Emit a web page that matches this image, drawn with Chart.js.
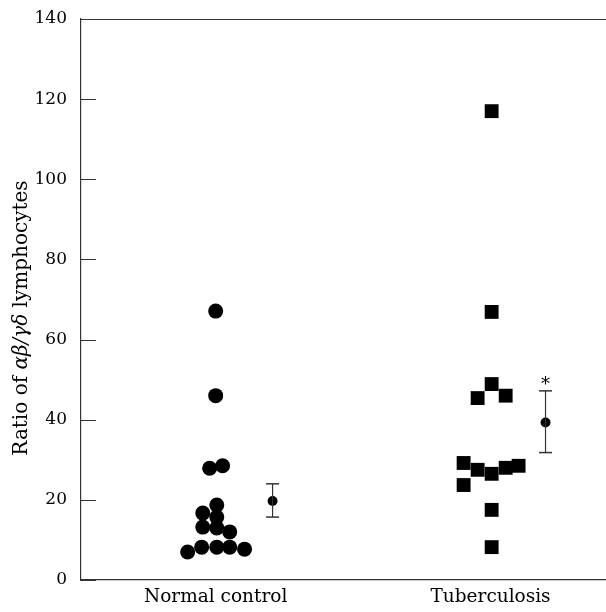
<!DOCTYPE html>
<html>
<head>
<meta charset="utf-8">
<script src="https://cdn.jsdelivr.net/npm/chart.js@4/dist/chart.umd.min.js"></script>
<style>
    html, body { margin: 0; padding: 0; background: #fff; overflow: hidden; }
    #wrap { width: 606px; height: 612px; position: relative; }
    canvas { display: block; }
</style>
</head>
<body>
<div id="wrap"><canvas id="ratioChart"></canvas></div>
<script>
// Data

var categories = ['Normal control', 'Tuberculosis'];
var yTicks = [0, 20, 40, 60, 80, 100, 120, 140];

var normalX = [1.0, 1.0, 0.978, 1.025, 1.004, 0.953, 1.004, 0.953, 1.004, 1.051, 0.898, 0.949, 1.004, 1.051, 1.105];
var normalY = [67.1, 46.0, 27.9, 28.5, 18.7, 16.7, 15.7, 13.2, 13.0, 12.0, 7.0, 8.2, 8.2, 8.2, 7.7];

var tbX = [2.004, 2.004, 2.004, 1.953, 2.055, 1.902, 1.953, 2.004, 2.055, 2.102, 1.902, 2.004, 2.004];
var tbY = [117.0, 66.9, 48.9, 45.4, 46.0, 29.2, 27.5, 26.5, 28.0, 28.5, 23.7, 17.5, 8.2];

var meanX = [1.207, 2.2];
var meanY = [19.7, 39.3];
var errLow = [15.7, 31.8];
var errHigh = [24.0, 47.2];
var marks = ['', '*'];

function pts(xs, ys)
{
    return xs.map(function (x, i) { return { x: x, y: ys[i] }; });
}

var serif = '"DejaVu Serif", "Liberation Serif", serif';
var ink = '#000';

// Extra drawing: inward ticks, top line, y title, asterisk

var extras = {
    id: 'extras',
    afterDraw: function (chart)
    {
        var c = chart.ctx;
        var a = chart.chartArea;
        var ys = chart.scales.y;
        var xs = chart.scales.x;
        c.save();
        c.strokeStyle = '#333';
        c.lineWidth = 1.2;
        c.beginPath();
        c.moveTo(a.left, a.top + 0.5);
        c.lineTo(a.right, a.top + 0.5);
        ys.ticks.forEach(function (t)
        {
            var py = Math.round(ys.getPixelForValue(t.value)) + 0.5;
            c.moveTo(a.left, py);
            c.lineTo(a.left + 15, py);
        });
        c.stroke();

        // asterisk
        c.fillStyle = ink;
        c.font = '18px ' + serif;
        c.textAlign = 'center';
        c.textBaseline = 'alphabetic';
        for (var i = 0; i < marks.length; i++)
        {
            if (marks[i])
            {
                c.fillText(marks[i], xs.getPixelForValue(meanX[i]), ys.getPixelForValue(errHigh[i]) - 1);
            }
        }

        // y title with italic greek part
        var parts = [['Ratio of ', ''], ['\u03b1\u03b2/\u03b3\u03b4', 'italic '], [' lymphocytes', '']];
        c.translate(27, 318);
        c.rotate(-Math.PI / 2);
        c.textAlign = 'left';
        var total = 0;
        parts.forEach(function (p)
        {
            c.font = p[1] + '20px ' + serif;
            total += c.measureText(p[0]).width;
        });
        var pos = -total / 2;
        parts.forEach(function (p)
        {
            c.font = p[1] + '20px ' + serif;
            c.fillText(p[0], pos, 0);
            pos += c.measureText(p[0]).width;
        });
        c.restore();
    }
};

// Chart

var errSets = meanX.map(function (x, i)
{
    return {
        type: 'line',
        data: [{ x: x, y: errLow[i] }, { x: x, y: errHigh[i] }],
        borderColor: '#333',
        borderWidth: 1.2,
        pointStyle: 'line',
        pointRadius: 6.5,
        pointBorderWidth: 1.5,
        pointBorderColor: '#333',
        fill: false
    };
});

var ctx = document.getElementById('ratioChart').getContext('2d');
var myChart = new Chart(ctx,
{
    type: 'scatter',
    data:
    {
        datasets: errSets.concat([
        {
            label: 'Normal control',
            data: pts(normalX, normalY),
            pointStyle: 'circle',
            pointRadius: 7.5,
            backgroundColor: '#000',
            borderColor: '#000',
            borderWidth: 0
        },
        {
            label: 'Tuberculosis',
            data: pts(tbX, tbY),
            pointStyle: 'rect',
            pointRadius: 9.8,
            backgroundColor: '#000',
            borderColor: '#000',
            borderWidth: 0
        },
        {
            label: 'Mean',
            data: pts(meanX, meanY),
            pointStyle: 'circle',
            pointRadius: 5,
            backgroundColor: '#000',
            borderColor: '#000',
            borderWidth: 0
        }])
    },
    options:
    {
        responsive: true,
        maintainAspectRatio: false,
        animation: false,
        layout:
        {
            autoPadding: false,
            padding: { top: 19, right: 0, bottom: 0, left: 0 }
        },
        plugins:
        {
            legend: { display: false },
            tooltip: { enabled: false }
        },
        scales:
        {
            x:
            {
                type: 'linear',
                min: 0.51,
                max: 2.42,
                afterFit: function (s)
                {
                    s.height = 32;
                    s.paddingLeft = 0;
                    s.paddingRight = 0;
                },
                afterBuildTicks: function (s)
                {
                    s.ticks = categories.map(function (c, i) { return { value: i + 1 }; });
                },
                ticks:
                {
                    autoSkip: false,
                    maxRotation: 0,
                    padding: 6,
                    color: ink,
                    font: { family: serif, size: 18.5 },
                    callback: function (v) { return categories[v - 1]; }
                },
                grid: { drawOnChartArea: false, drawTicks: false },
                border: { display: true, color: '#333', width: 1.2 }
            },
            y:
            {
                min: 0,
                max: 140,
                afterFit: function (s)
                {
                    s.width = 81;
                    s.paddingTop = 0;
                    s.paddingBottom = 0;
                },
                afterBuildTicks: function (s)
                {
                    s.ticks = yTicks.map(function (v) { return { value: v }; });
                },
                ticks:
                {
                    padding: 14,
                    color: ink,
                    font: { family: serif, size: 17 }
                },
                grid: { drawOnChartArea: false, drawTicks: false },
                border: { display: true, color: '#333', width: 1.2 }
            }
        }
    },
    plugins: [extras]
});
</script>
</body>
</html>
